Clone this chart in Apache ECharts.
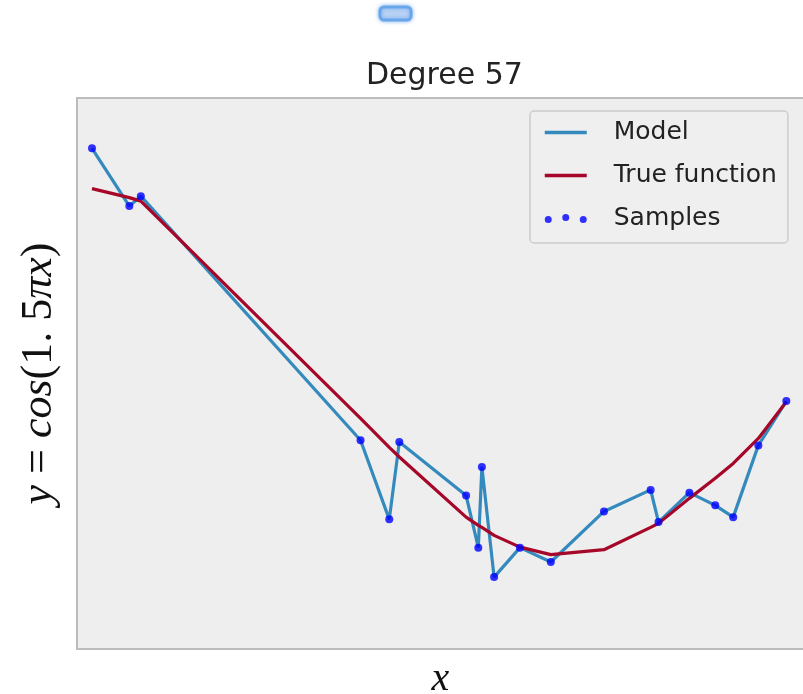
<!DOCTYPE html>
<html>
<head>
<meta charset="utf-8">
<script src="https://cdn.jsdelivr.net/npm/echarts@6/dist/echarts.min.js"></script>
<style>
  html, body { margin: 0; padding: 0; background: #ffffff; }
  #chart { width: 803px; height: 694px; }
</style>
</head>
<body>
<div id="chart"></div>
<script>
// sample positions (x) and noisy samples
var xs = [0.000, 0.052, 0.068, 0.374, 0.414, 0.428, 0.521, 0.538, 0.543, 0.560,
          0.596, 0.639, 0.713, 0.778, 0.789, 0.832, 0.868, 0.893, 0.928, 0.967];
var sampleY = [1.219, 0.905, 0.959, -0.368, -0.798, -0.378, -0.668, -0.952, -0.513, -1.112,
               -0.952, -1.030, -0.755, -0.638, -0.813, -0.653, -0.722, -0.786, -0.396, -0.155];
// degree 57 fit goes through every sample
var modelY = [1.219, 0.905, 0.959, -0.368, -0.798, -0.378, -0.668, -0.952, -0.513, -1.112,
              -0.952, -1.030, -0.755, -0.638, -0.813, -0.653, -0.722, -0.786, -0.396, -0.155];
// true function evaluated at the same x's
var trueY = [1.000, 0.951, 0.932, -0.249, -0.407, -0.459, -0.786, -0.831, -0.842, -0.885,
             -0.949, -0.990, -0.963, -0.842, -0.820, -0.684, -0.575, -0.494, -0.358, -0.159];

function pairs(ys) {
  var out = [];
  xs.forEach(function (x, i) { out.push([x, ys[i]]); });
  return out;
}

var chart = echarts.init(document.getElementById('chart'));

// hide the dot ECharts puts on line legend icons
var noDot = { opacity: 0, color: 'rgba(0,0,0,0)', borderWidth: 0 };

var option = {
  animation: false,
  backgroundColor: '#ffffff',
  title: {
    text: 'Degree 57',
    left: 361,
    top: 56,
    textStyle: { fontFamily: 'DejaVu Sans', fontSize: 30, fontWeight: 'normal', color: '#222222' }
  },
  grid: {
    left: 77, top: 98, right: -1, bottom: 45,
    containLabel: false,
    outerBoundsMode: 'none',
    show: true,
    backgroundColor: '#eeeeee',
    borderColor: '#bcbcbc',
    borderWidth: 2
  },
  legend: {
    orient: 'vertical',
    left: 530,
    top: 111,
    padding: [9, 11, 12, 13],
    itemGap: 18,
    itemWidth: 42,
    itemHeight: 9,
    backgroundColor: '#efefef',
    borderColor: '#cccccc',
    borderWidth: 1.5,
    borderRadius: 4,
    textStyle: { fontFamily: 'DejaVu Sans', fontSize: 25, lineHeight: 25, color: '#222222', padding: [0, 0, 0, 22] },
    data: [
      { name: 'Model', itemStyle: noDot, lineStyle: { width: 3.5 } },
      { name: 'True function', itemStyle: noDot, lineStyle: { width: 3.5 } },
      { name: 'Samples', icon: 'path://M0,5.5a3.5,3.5 0 1,0 7,0a3.5,3.5 0 1,0 -7,0Z M17.5,3.5a3.5,3.5 0 1,0 7,0a3.5,3.5 0 1,0 -7,0Z M35,5.5a3.5,3.5 0 1,0 7,0a3.5,3.5 0 1,0 -7,0Z' }
    ]
  },
  xAxis: {
    type: 'value',
    min: -0.0209,
    max: 0.9916,
    axisLine: { show: false },
    axisTick: { show: false },
    axisLabel: { show: false },
    splitLine: { show: false },
    name: 'x',
    nameLocation: 'middle',
    nameGap: 10,
    nameTextStyle: { fontFamily: 'Liberation Serif', fontStyle: 'italic', fontSize: 40, color: '#111111' }
  },
  yAxis: {
    type: 'value',
    min: -1.503,
    max: 1.4928,
    axisLine: { show: false },
    axisTick: { show: false },
    axisLabel: { show: false },
    splitLine: { show: false },
    name: '{i|y}{u| = }{i|cos}{u|(1. 5}{i|πx}{u|)}',
    nameLocation: 'middle',
    nameRotate: 90,
    nameGap: 16,
    nameTextStyle: {
      color: '#111111',
      rich: {
        i: { fontFamily: 'Liberation Serif', fontStyle: 'italic', fontSize: 44, color: '#111111' },
        u: { fontFamily: 'Liberation Serif', fontSize: 44, color: '#111111' }
      }
    }
  },
  graphic: [
    {
      type: 'rect',
      shape: { x: 380, y: 7, width: 31, height: 13, r: 4 },
      style: { fill: '#b9d3f4', stroke: '#6aa6ec', lineWidth: 3, shadowBlur: 4, shadowColor: 'rgba(80,150,235,0.6)' },
      silent: true
    }
  ],
  series: [
    {
      name: 'Model',
      type: 'line',
      data: pairs(modelY),
      symbol: 'none',
      color: '#348ABD',
      lineStyle: { width: 3.2, color: '#348ABD' },
      z: 2
    },
    {
      name: 'True function',
      type: 'line',
      data: pairs(trueY),
      symbol: 'none',
      color: '#A60628',
      lineStyle: { width: 3.2, color: '#A60628' },
      z: 3
    },
    {
      name: 'Samples',
      type: 'scatter',
      data: pairs(sampleY),
      symbolSize: 8,
      itemStyle: { color: '#0000ff' },
      z: 4
    }
  ]
};

chart.setOption(option);
window.addEventListener('resize', function () { chart.resize(); });
</script>
</body>
</html>
